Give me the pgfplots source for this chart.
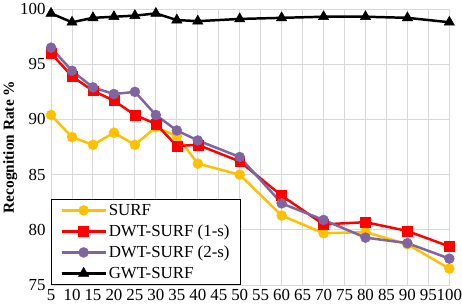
\documentclass[border=0pt]{standalone}
\usepackage{fontspec}
\setmainfont{Liberation Serif}
\usepackage{pgfplots}
\pgfplotsset{compat=1.18}
\definecolor{cSurf}{HTML}{FFC000}
\definecolor{cDwtA}{HTML}{FF0000}
\definecolor{cDwtB}{HTML}{8064A2}
\definecolor{gridc}{HTML}{D9D9D9}
\begin{document}
\begin{tikzpicture}
\begin{axis}[
  scale only axis,
  width=401pt, height=278pt,
  xmin=5, xmax=100, ymin=75, ymax=100,
  xtick={5,10,...,100},
  ytick={75,80,...,100},
  grid=major,
  major grid style={gridc, line width=1pt},
  axis line style={gridc, line width=1pt},
  tick style={draw=none},
  font=\fontsize{17}{19}\selectfont,
  /pgf/number format/assume math mode=true,
  x tick label style={font=\fontsize{17}{19}\selectfont, inner xsep=0pt},
  y tick label style={font=\fontsize{17}{19}\selectfont},
  xticklabel shift=1pt,
  yticklabel shift=2pt,
  ylabel={\textbf{Recognition Rate \%}},
  ylabel style={font=\fontsize{15.5}{17}\selectfont},
  ylabel shift=-4pt,
  clip=false,
  legend style={at={(rel axis cs:0,0)}, anchor=south west, draw=black, line width=1pt, fill=white,
    font=\fontsize{17}{19}\selectfont, inner xsep=9pt, inner ysep=3pt, row sep=4pt,
    nodes={inner xsep=2pt}},
  legend cell align=left,
  legend image code/.code={\draw[#1] (0cm,0cm) -- (1.55cm,0cm); \draw[#1, mark repeat=2, mark phase=2] plot coordinates {(0cm,0cm) (0.775cm,0cm) (1.55cm,0cm)};},
]
\addplot[cSurf, line width=2.5pt, mark=*, mark size=5pt, mark options={fill=cSurf, line width=0.5pt}] coordinates {
(5,90.4) (10,88.4) (15,87.7) (20,88.8) (25,87.7) (30,89.3) (35,88.5) (40,86.0) (50,85.0) (60,81.3) (70,79.7) (80,79.8) (90,78.7) (100,76.5)};
\addlegendentry{SURF}
\addplot[cDwtA, line width=2.5pt, mark=square*, mark size=5pt, mark options={fill=cDwtA, line width=0.5pt}] coordinates {
(5,96.0) (10,93.9) (15,92.6) (20,91.7) (25,90.4) (30,89.6) (35,87.6) (40,87.7) (50,86.2) (60,83.1) (70,80.5) (80,80.7) (90,79.9) (100,78.5)};
\addlegendentry{DWT-SURF (1-s)}
\addplot[cDwtB, line width=2.5pt, mark=*, mark size=5pt, mark options={fill=cDwtB, line width=0.5pt}] coordinates {
(5,96.5) (10,94.4) (15,92.9) (20,92.3) (25,92.5) (30,90.4) (35,89.0) (40,88.1) (50,86.6) (60,82.4) (70,80.9) (80,79.3) (90,78.8) (100,77.4)};
\addlegendentry{DWT-SURF (2-s)}
\addplot[black, line width=2.5pt, mark=triangle*, mark size=6pt, mark options={fill=black, line width=0.5pt}] coordinates {
(5,99.6) (10,98.8) (15,99.2) (20,99.3) (25,99.4) (30,99.6) (35,99.0) (40,98.9) (50,99.1) (60,99.2) (70,99.3) (80,99.3) (90,99.2) (100,98.8)};
\addlegendentry{GWT-SURF}
\end{axis}
\end{tikzpicture}
\end{document}
